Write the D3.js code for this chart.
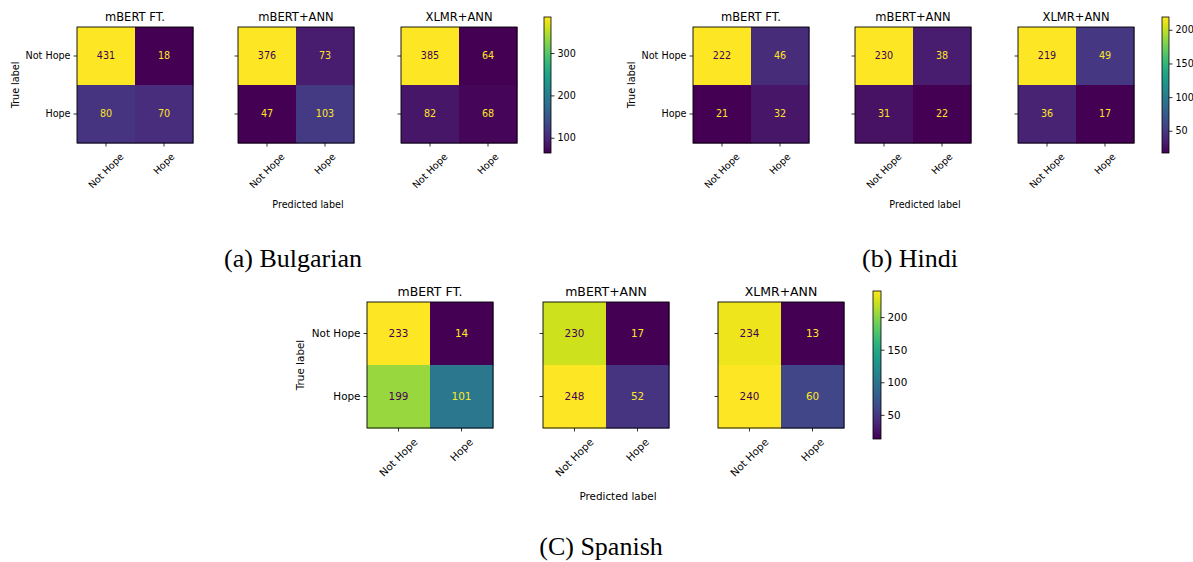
<!DOCTYPE html>
<html>
<head>
<meta charset="utf-8">
<script src="https://cdn.jsdelivr.net/npm/d3@7"></script>
<style>
  body { margin: 0; background: #fff; }
  svg { display: block; }
  text { font-family: "DejaVu Sans", sans-serif; fill: #000; }
  .caption { font-family: "Liberation Serif", "Times New Roman", serif; }
</style>
</head>
<body>
<div id="chart"></div>
<script>
// class labels and model names shared by all three figures
const classes = ["Not Hope", "Hope"]
const models = ["mBERT FT.", "mBERT+ANN", "XLMR+ANN"]

// confusion matrices, rows = true label, cols = predicted label
const bulgarian = [
  [[431, 18], [80, 70]],
  [[376, 73], [47, 103]],
  [[385, 64], [82, 68]]
]
const hindi = [
  [[222, 46], [21, 32]],
  [[230, 38], [31, 22]],
  [[219, 49], [36, 17]]
]
const spanish = [
  [[233, 14], [199, 101]],
  [[230, 17], [248, 52]],
  [[234, 13], [240, 60]]
]

// colorbar ticks for each figure
const bulgarianTicks = [100, 200, 300]
const hindiTicks = [50, 100, 150, 200]
const spanishTicks = [50, 100, 150, 200]

const captions = ["(a) Bulgarian", "(b) Hindi", "(C) Spanish"]

const width = 1193
const height = 562

const svg = d3.select("#chart")
  .append("svg")
  .attr("width", width)
  .attr("height", height)

const defs = svg.append("defs")

// layout of each figure block
const blocks = [
  { data: bulgarian, ticks: bulgarianTicks, caption: captions[0],
    xs: [77, 238, 401], y: 27, size: 116, font: 9.6,
    cb: { x: 544, y0: 17, y1: 153, w: 7 },
    capX: 293, capY: 267 },
  { data: hindi, ticks: hindiTicks, caption: captions[1],
    xs: [693, 855, 1018], y: 27, size: 116, font: 9.6,
    cb: { x: 1162, y0: 17, y1: 153, w: 7 },
    capX: 910, capY: 267 },
  { data: spanish, ticks: spanishTicks, caption: captions[2],
    xs: [367, 543, 718], y: 302, size: 126, font: 10.4,
    cb: { x: 873, y0: 291, y1: 439, w: 8 },
    capX: 601, capY: 555 }
]

const dark = d3.interpolateViridis(0)
const light = d3.interpolateViridis(1)

blocks.forEach((b, bi) => {
  const g = svg.append("g")

  b.data.forEach((m, mi) => {
    const flat = m.flat()
    const vmin = d3.min(flat)
    const vmax = d3.max(flat)
    const color = d3.scaleSequential(d3.interpolateViridis).domain([vmin, vmax])
    const thresh = (vmin + vmax) / 2

    const xScale = d3.scaleBand().domain(classes).range([0, b.size])
    const yScale = d3.scaleBand().domain(classes).range([0, b.size])

    const p = g.append("g")
      .attr("transform", `translate(${b.xs[mi]} ${b.y})`)

    const cells = []
    m.forEach((row, ri) => row.forEach((v, ci) => cells.push({ r: classes[ri], c: classes[ci], v })))

    p.selectAll("rect.cell")
      .data(cells)
      .join("rect")
      .attr("class", "cell")
      .attr("x", d => xScale(d.c))
      .attr("y", d => yScale(d.r))
      .attr("width", xScale.bandwidth() + 0.5)
      .attr("height", yScale.bandwidth() + 0.5)
      .attr("fill", d => color(d.v))

    p.selectAll("text.val")
      .data(cells)
      .join("text")
      .attr("class", "val")
      .attr("x", d => xScale(d.c) + xScale.bandwidth() / 2)
      .attr("y", d => yScale(d.r) + yScale.bandwidth() / 2)
      .attr("dy", "0.35em")
      .attr("text-anchor", "middle")
      .attr("font-size", b.font)
      .style("fill", d => d.v >= thresh ? dark : light)
      .text(d => d.v)

    // frame
    p.append("rect")
      .attr("width", b.size)
      .attr("height", b.size)
      .attr("fill", "none")
      .attr("stroke", "#000")
      .attr("stroke-width", 0.9)

    // title
    p.append("text")
      .attr("x", b.size / 2)
      .attr("y", -6)
      .attr("text-anchor", "middle")
      .attr("font-size", b.font * 1.2)
      .text(models[mi])

    // y axis (labels only on the first panel)
    const yAxis = d3.axisLeft(yScale).tickSize(3.5).tickPadding(3)
    const ya = p.append("g").call(yAxis)
    ya.select(".domain").remove()
    ya.selectAll("line").attr("stroke", "#000").attr("stroke-width", 0.8)
    ya.selectAll("text")
      .attr("font-size", b.font)
      .attr("font-family", "DejaVu Sans")
      .style("fill", "#000")
      .style("display", mi === 0 ? null : "none")

    // x axis with rotated labels
    const xAxis = d3.axisBottom(xScale).tickSize(3.5).tickPadding(3)
    const xa = p.append("g")
      .attr("transform", `translate(0 ${b.size})`)
      .call(xAxis)
    xa.select(".domain").remove()
    xa.selectAll("line").attr("stroke", "#000").attr("stroke-width", 0.8)
    xa.selectAll("text")
      .attr("font-size", b.font)
      .attr("font-family", "DejaVu Sans")
      .style("fill", "#000")
      .each(function() {
        const t = d3.select(this)
        const w = this.getComputedTextLength()
        const h = b.font * 1.15
        const cy = 8 + (w + h) / (2 * Math.SQRT2)
        t.attr("x", 0)
          .attr("y", cy)
          .attr("dy", "0.35em")
          .attr("text-anchor", "middle")
          .attr("transform", `rotate(-45 0 ${cy})`)
      })

    if (mi === 0) {
      p.append("text")
        .attr("transform", `translate(${-b.size * 0.53} ${b.size / 2}) rotate(-90)`)
        .attr("dy", "0.35em")
        .attr("text-anchor", "middle")
        .attr("font-size", b.font)
        .text("True label")
    }
    if (mi === 1) {
      p.append("text")
        .attr("x", b.size / 2 + 12)
        .attr("y", b.size + (b.y > 100 ? 72 : 65))
        .attr("text-anchor", "middle")
        .attr("font-size", b.font)
        .text("Predicted label")
    }

    // colorbar follows the last panel's range
    if (mi === 2) {
      const gid = "grad" + bi
      const grad = defs.append("linearGradient")
        .attr("id", gid)
        .attr("x1", 0).attr("y1", 1).attr("x2", 0).attr("y2", 0)
      d3.range(0, 1.0001, 0.05).forEach(t => {
        grad.append("stop")
          .attr("offset", t)
          .attr("stop-color", d3.interpolateViridis(t))
      })
      const cbScale = d3.scaleLinear().domain([vmin, vmax]).range([b.cb.y1, b.cb.y0])
      g.append("rect")
        .attr("x", b.cb.x)
        .attr("y", b.cb.y0)
        .attr("width", b.cb.w)
        .attr("height", b.cb.y1 - b.cb.y0)
        .attr("fill", `url(#${gid})`)
        .attr("stroke", "#000")
        .attr("stroke-width", 0.8)
      const cbAxis = d3.axisRight(cbScale).tickValues(b.ticks).tickSize(3.5).tickPadding(3)
      const ca = g.append("g")
        .attr("transform", `translate(${b.cb.x + b.cb.w} 0)`)
        .call(cbAxis)
      ca.select(".domain").remove()
      ca.selectAll("line").attr("stroke", "#000").attr("stroke-width", 0.8)
      ca.selectAll("text")
        .attr("font-size", b.font)
        .attr("font-family", "DejaVu Sans")
        .style("fill", "#000")
    }
  })

  svg.append("text")
    .attr("class", "caption")
    .attr("x", b.capX)
    .attr("y", b.capY)
    .attr("text-anchor", "middle")
    .attr("font-size", 26)
    .text(b.caption)
})
</script>
</body>
</html>
